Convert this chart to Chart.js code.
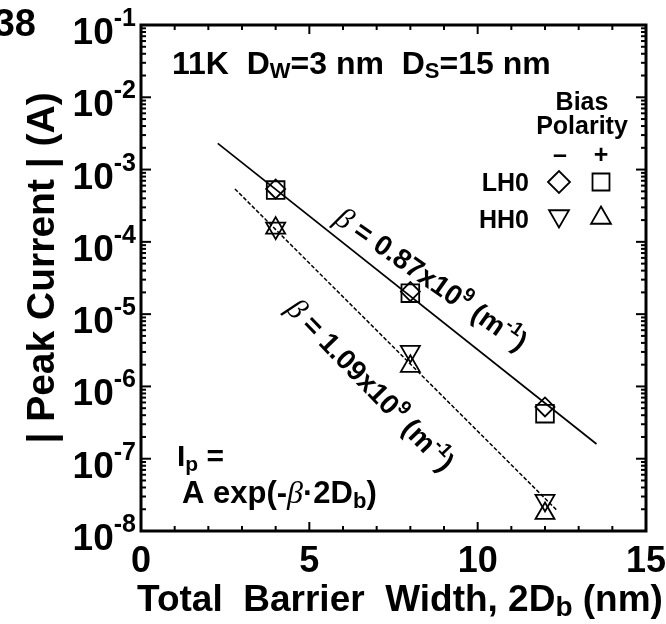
<!DOCTYPE html>
<html>
<head>
<meta charset="utf-8">
<script src="https://cdn.jsdelivr.net/npm/chart.js@4/dist/chart.umd.min.js"></script>
<style>
  html,body{margin:0;padding:0;background:#fff;}
  #wrap{width:666px;height:624px;}
</style>
</head>
<body>
<div id="wrap"><canvas id="c" width="666" height="624"></canvas></div>
<script>
// barrier width 2Db (nm)
const widths = [4, 8, 12];
// peak current |A|
const lh0Minus = [5.4e-4, 2.05e-5, 5.2e-7];   // diamonds
const lh0Plus  = [5.2e-4, 1.95e-5, 4.2e-7];   // squares
const hh0Minus = [1.55e-4, 3.05e-6, 2.65e-8]; // down triangles
const hh0Plus  = [1.55e-4, 1.9e-6, 1.75e-8];  // up triangles
// fitted lines, end points
const fitLhX = [2.28, 13.53];
const fitLhY = [2.3e-3, 1.6e-7];
const fitHhX = [2.79, 12.37];
const fitHhY = [5.4e-4, 1.9e-8];
// axes
const xTickLabels = [0, 5, 10, 15];
const yExps = [-1, -2, -3, -4, -5, -6, -7, -8];

const B = n => `bold ${n}px "Liberation Sans", Arial, sans-serif`;
const G = n => `italic ${n}px "Liberation Serif", serif`;

const pts = (xs, ys) => xs.map((x, i) => ({x, y: ys[i]}));
const mk = (label, data, style, r, rot) => ({
  label, data, pointStyle: style, pointRadius: r, pointRotation: rot || 0,
  pointBorderColor: '#000', pointBackgroundColor: 'rgba(0,0,0,0)',
  pointBorderWidth: 1.8, showLine: false, clip: false
});

function runs(ctx, x, y, parts, angle, align){
  ctx.save();
  ctx.translate(x, y);
  if(angle) ctx.rotate(angle * Math.PI / 180);
  let w = 0;
  for(const p of parts){ ctx.font = p.f; w += ctx.measureText(p.t).width; }
  let cx = align === 'center' ? -w/2 : align === 'right' ? -w : 0;
  ctx.textAlign = 'left'; ctx.textBaseline = 'alphabetic';
  for(const p of parts){
    ctx.font = p.f;
    ctx.fillText(p.t, cx, p.dy || 0);
    cx += ctx.measureText(p.t).width;
  }
  ctx.restore();
}

function marker(ctx, style, r, rot, x, y){
  ctx.save();
  ctx.lineWidth = 1.8; ctx.strokeStyle = '#000'; ctx.fillStyle = 'rgba(0,0,0,0)';
  Chart.helpers.drawPoint(ctx, {pointStyle: style, radius: r, rotation: rot || 0, borderWidth: 1.8}, x, y);
  ctx.restore();
}

const deco = {
  id: 'deco',
  afterDatasetsDraw(chart){
    const {ctx, chartArea: a, scales: {x, y}} = chart;
    ctx.save();
    ctx.strokeStyle = '#000'; ctx.fillStyle = '#000';
    const ln = (x1, y1, x2, y2) => { ctx.beginPath(); ctx.moveTo(x1, y1); ctx.lineTo(x2, y2); ctx.stroke(); };
    // inward ticks
    ctx.lineWidth = 2;
    for(let v = x.min; v <= x.max; v++){
      const px = x.getPixelForValue(v);
      const len = v % 5 === 0 ? 9 : 5;
      ln(px, a.bottom, px, a.bottom - len);
      ln(px, a.top, px, a.top + len);
    }
    for(const e of yExps){
      for(let m = 1; m <= 9; m++){
        if(e === -1 && m > 1) break;
        const py = y.getPixelForValue(m * Math.pow(10, e));
        const len = m === 1 ? 10 : 5;
        ln(a.left, py, a.left + len, py);
        ln(a.right, py, a.right - len, py);
      }
    }
    ctx.lineWidth = 3;
    ctx.strokeRect(a.left, a.top, a.right - a.left, a.bottom - a.top);

    // tick labels
    for(const e of yExps){
      const py = y.getPixelForValue(Math.pow(10, e));
      runs(ctx, 136, py + 19, [{t: '10', f: B(37)}, {t: String(e), f: B(25), dy: -18}], 0, 'right');
    }
    for(const v of xTickLabels){
      runs(ctx, x.getPixelForValue(v), 572, [{t: String(v), f: B(36)}], 0, 'center');
    }
    // axis titles
    runs(ctx, 400, 611, [{t: 'Total  Barrier  Width, 2D', f: B(37)}, {t: 'b', f: B(28), dy: 5}, {t: ' (nm)', f: B(37)}], 0, 'center');
    runs(ctx, 54, 268, [{t: '| Peak Current | (A)', f: B(39)}], -90, 'center');
    runs(ctx, 36, 36, [{t: '38', f: B(38)}], 0, 'right');

    // header inside plot
    runs(ctx, 172, 74, [{t: '11K  D', f: B(32)}, {t: 'W', f: B(22), dy: 4}, {t: '=3 nm  D', f: B(32)}, {t: 'S', f: B(22), dy: 4}, {t: '=15 nm', f: B(32)}]);

    // legend block
    runs(ctx, 582, 110, [{t: 'Bias', f: B(25)}], 0, 'center');
    runs(ctx, 582, 134, [{t: 'Polarity', f: B(25)}], 0, 'center');
    runs(ctx, 560, 163, [{t: '–', f: B(25)}], 0, 'center');
    runs(ctx, 601, 163, [{t: '+', f: B(25)}], 0, 'center');
    runs(ctx, 529, 191, [{t: 'LH0', f: B(25)}], 0, 'right');
    runs(ctx, 529, 228, [{t: 'HH0', f: B(25)}], 0, 'right');
    marker(ctx, 'rectRot', 11, 0, 559, 182);
    marker(ctx, 'rect', 12, 0, 601, 182);
    marker(ctx, 'triangle', 11.5, 180, 559, 216);
    marker(ctx, 'triangle', 11.5, 0, 601, 218);

    // slope labels
    runs(ctx, 333, 222, [{t: 'β', f: G(30)}, {t: ' = 0.87x10', f: B(28)}, {t: '9', f: B(19), dy: -12}, {t: ' (m', f: B(28)}, {t: '-1', f: B(19), dy: -12}, {t: ')', f: B(28)}], 35);
    runs(ctx, 285, 310, [{t: 'β', f: G(30)}, {t: ' = 1.09x10', f: B(28)}, {t: '9', f: B(19), dy: -12}, {t: ' (m', f: B(28)}, {t: '-1', f: B(19), dy: -12}, {t: ')', f: B(28)}], 46);

    // formula
    runs(ctx, 177, 466, [{t: 'I', f: B(30)}, {t: 'p', f: B(21), dy: 5}, {t: ' =', f: B(30)}]);
    runs(ctx, 182, 503, [{t: 'A exp(-', f: B(31)}, {t: 'β', f: G(32)}, {t: '·2D', f: B(31)}, {t: 'b', f: B(22), dy: 5}, {t: ')', f: B(31)}]);
    ctx.restore();
  }
};

new Chart(document.getElementById('c'), {
  type: 'scatter',
  data: {
    datasets: [
      {label: 'LH0 fit', data: pts(fitLhX, fitLhY), showLine: true, pointRadius: 0,
       borderColor: '#000', borderWidth: 1.7, clip: false},
      {label: 'HH0 fit', data: pts(fitHhX, fitHhY), showLine: true, pointRadius: 0,
       borderColor: '#000', borderWidth: 1.5, borderDash: [4, 2], clip: false},
      mk('LH0 -', pts(widths, lh0Minus), 'rectRot', 9.5),
      mk('LH0 +', pts(widths, lh0Plus), 'rect', 12.5),
      mk('HH0 -', pts(widths, hh0Minus), 'triangle', 11, 180),
      mk('HH0 +', pts(widths, hh0Plus), 'triangle', 11)
    ]
  },
  options: {
    responsive: false,
    animation: false,
    devicePixelRatio: 1,
    layout: {padding: {left: 141, right: 20, top: 25, bottom: 93}},
    plugins: {legend: {display: false}, tooltip: {enabled: false}},
    scales: {
      x: {type: 'linear', min: 0, max: 15,
          grid: {display: false}, border: {display: false}, ticks: {display: false},
          afterFit: s => { s.height = 0; }},
      y: {type: 'logarithmic', min: 1e-8, max: 1e-1,
          grid: {display: false}, border: {display: false}, ticks: {display: false},
          afterFit: s => { s.width = 0; }}
    }
  },
  plugins: [deco]
});
</script>
</body>
</html>
